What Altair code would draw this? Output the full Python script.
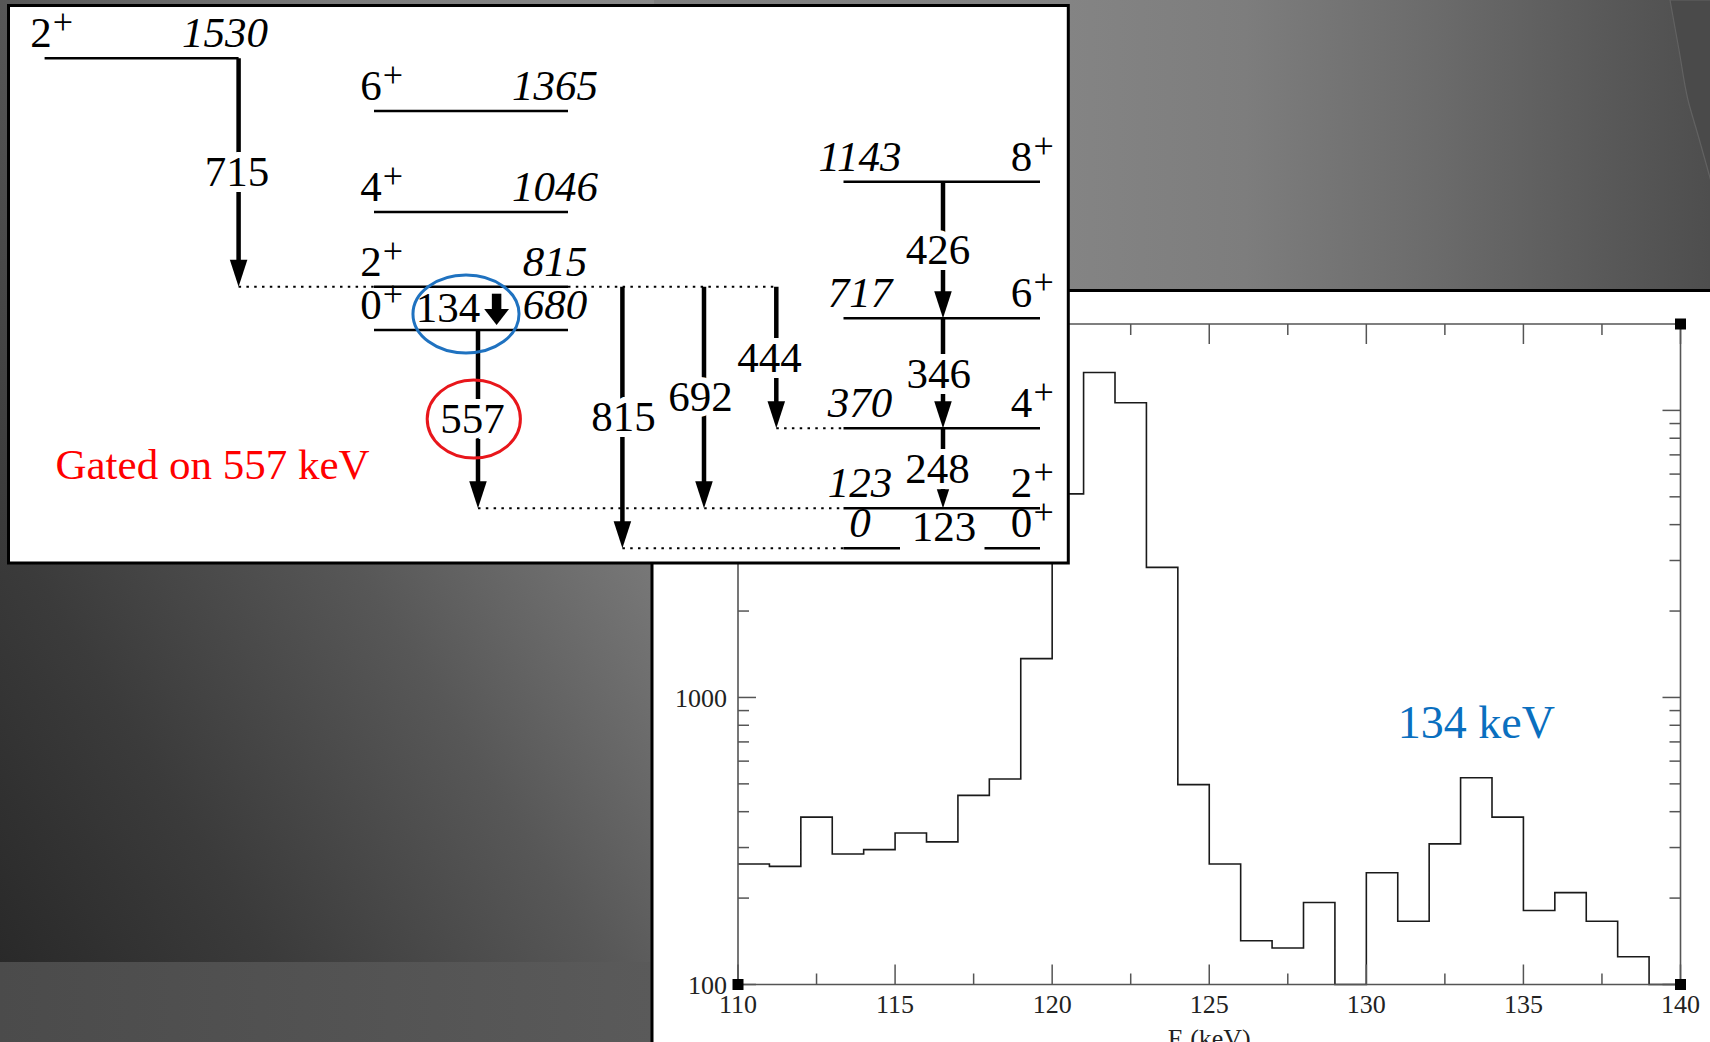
import altair as alt
import pandas as pd

W, H = 1710, 1042

# ---------------- spectrum gated on the 557 keV line (1 keV bins) ----------------
BIN_START = list(range(110, 140))
COUNTS = [263, 258, 383, 285, 295, 337, 314, 456, 520, 1365,
          5120, 13550, 10640, 2840, 497, 263, 142, 134, 193, 100,
          245, 166, 309, 525, 383, 181, 209, 166, 125, 100]
E_MIN, E_MAX = 110, 140
C_MIN, C_MAX = 100, 20000
X_MAJOR = [110, 115, 120, 125, 130, 135, 140]
X_MINOR = [112.5, 117.5, 122.5, 127.5, 132.5, 137.5]
Y_MAJOR = [100, 1000, 10000]
Y_LABELS = ["100", "1000", "10000"]
Y_MINOR = [200, 300, 400, 500, 600, 700, 800, 900,
           2000, 3000, 4000, 5000, 6000, 7000, 8000, 9000]
X_TITLE = "E (keV)"
PEAK_LABEL = "134 keV"
PEAK_LABEL_AT = (133.5, 810)

# ---------------- level scheme ----------------
LEVEL_E = [0, 123, 370, 717, 1143, 680, 815, 1046, 1365, 1530]
LEVEL_SPIN = ["0", "2", "4", "6", "8", "0", "2", "4", "6", "2"]
LEVEL_BAND = ["gsb", "gsb", "gsb", "gsb", "gsb", "beta", "beta", "beta", "beta", "side"]
GAMMA_E = [715, 557, 815, 692, 444, 426, 346, 248, 134, 123]
GAMMA_FROM = [1530, 680, 815, 815, 815, 1143, 717, 370, 815, 123]
GAMMA_TO = [815, 123, 0, 123, 370, 717, 370, 123, 680, 0]
GATE_TEXT = "Gated on 557 keV"
CIRCLED = [134, 557]

# ---------------- drawing layout (canvas pixels) ----------------
FONT = "Liberation Serif"
LEVEL_PIX = [548.3, 508.3, 428.3, 318.3, 181.8, 330.0, 286.7, 212.0, 111.0, 58.2]
BAND_SPAN = {"side": [(44.6, 238.6)], "beta": [(374, 568)], "gsb": [(843.5, 1040)]}
GROUND_SPAN = [(843.5, 900), (984.5, 1040)]
SPIN_X = {"side": 41, "beta": 371, "gsb": 1021.6}
ENERGY_X = {"side": 225, "beta": 555, "gsb": 860}
DOTTED = [(815, 238.6, 374), (815, 568, 776.3), (370, 776.3, 843.5),
          (123, 478, 843.5), (0, 622.4, 843.5)]
GAMMA_X = {715: 238.6, 557: 478, 815: 622.4, 692: 704, 444: 776.3,
           426: 943, 346: 943, 248: 943, 134: 496.6}
GAMMA_LABEL_XY = {715: (237, 171.5), 557: (472.6, 418), 815: (623.5, 416.7),
                  692: (700.5, 396.7), 444: (769.5, 357.5), 426: (938, 249),
                  346: (938.7, 373), 248: (937.6, 468), 134: (448, 307.7),
                  123: (944, 526.7)}
ELLIPSE = {134: ((466, 314), 1.36, "#1f72c0"), 557: ((473.8, 419), 1.195, "#e8161b")}
GATE_XY = (212.5, 464.5)
BOX = (8.5, 1068.3, 5.5, 563)
PANEL = (652, 1730, 290.5, 1060)
HIST_X = (738, 1680.5)
HIST_Y = (984.5, 324)
AX = "#555555"
CORNER_CURVE_Y = [0, 50, 100, 135, 167, 185]
CORNER_CURVE_X = [1670, 1679, 1688, 1698, 1707, 1712]

HEAD = "M -0.65 -2 L 0.65 -2 L 0 0 Z"
BLOCK_HEAD = "M -1.55 -2 L 1.55 -2 L 0 0 Z"


def ellipse_path(ratio):
    return (f"M {-ratio} 0 A {ratio} 1 0 1 1 {ratio} 0 "
            f"A {ratio} 1 0 1 1 {-ratio} 0 Z")


PXS = alt.Scale(domain=[0, W], range=[0, W], nice=False, zero=False)
PYS = alt.Scale(domain=[0, H], range=[0, H], nice=False, zero=False)
order = sorted(range(len(LEVEL_E)), key=lambda i: LEVEL_E[i])
ES = alt.Scale(domain=[LEVEL_E[i] for i in order],
               range=[LEVEL_PIX[i] for i in order], nice=False, zero=False)
HX = alt.Scale(domain=[E_MIN, E_MAX], range=list(HIST_X), nice=False, zero=False)
HY = alt.Scale(type="log", domain=[C_MIN, C_MAX], range=list(HIST_Y), nice=False)


def px(f):
    return alt.X(f, type="quantitative", scale=PXS, axis=None)


def py(f):
    return alt.Y(f, type="quantitative", scale=PYS, axis=None)


def ey(f):
    return alt.Y(f, type="quantitative", scale=ES, axis=None)


def hx(f):
    return alt.X(f, type="quantitative", scale=HX, axis=None)


def hy(f):
    return alt.Y(f, type="quantitative", scale=HY, axis=None)


def lin(stops, x1=0, y1=0, x2=1, y2=0):
    return {"gradient": "linear", "x1": x1, "y1": y1, "x2": x2, "y2": y2,
            "stops": [{"offset": o, "color": c} for o, c in stops]}


def pixel_rect(box, **mark):
    x0, x1, y0, y1 = box
    df = pd.DataFrame({"x0": [x0], "x1": [x1], "y0": [y0], "y1": [y1]})
    return alt.Chart(df).mark_rect(**mark).encode(
        x=px("x0"), x2=alt.X2("x1"), y=py("y0"), y2=alt.Y2("y1"))


layers = []

# slide background
layers.append(pixel_rect((0, 654, 0, H), color=lin(
    [(0, "#262626"), (0.25, "#3b3b3b"), (0.5, "#575757"), (0.75, "#7b7b7b"), (1, "#8a8a8a")],
    x1=0, y1=1, x2=1, y2=0)))
layers.append(pixel_rect((654, W, 0, 292), color=lin(
    [(0, "#7f7f7f"), (0.39, "#848484"), (0.56, "#7d7d7d"), (0.75, "#6a6a6a"),
     (0.9, "#595959"), (1, "#4e4e4e")])))
curve = pd.DataFrame({"y": CORNER_CURVE_Y, "x": CORNER_CURVE_X, "r": [W + 5] * len(CORNER_CURVE_Y)})
layers.append(alt.Chart(curve).mark_area(orient="horizontal", color="#4a4a4a", interpolate="monotone",
                                         stroke="#626262", strokeWidth=1.2).encode(
    y=py("y"), x=px("x"), x2=alt.X2("r")))
layers.append(pixel_rect((0, 652, 962, H), color=lin([(0, "#4b4b4b"), (1, "#5a5a5a")])))

# spectrum panel
layers.append(pixel_rect(PANEL, fill="white", stroke="black", strokeWidth=3))

hist = pd.DataFrame({"e": BIN_START + [E_MAX], "c": COUNTS + [COUNTS[-1]]})
layers.append(alt.Chart(hist).mark_line(interpolate="step-after", color="#1a1a1a",
                                        strokeWidth=1.6).encode(x=hx("e"), y=hy("c")))

frame = pd.DataFrame({"a": [E_MIN], "b": [E_MAX], "lo": [C_MIN], "hi": [C_MAX]})
layers.append(alt.Chart(frame).mark_rect(fillOpacity=0, stroke=AX, strokeWidth=1.6).encode(
    x=hx("a"), x2=alt.X2("b"), y=hy("lo"), y2=alt.Y2("hi")))

# ticks on all four sides, pointing inwards
for vals, length in ((X_MAJOR, 20), (X_MINOR, 11)):
    for base, sign in ((C_MIN, -1), (C_MAX, 1)):
        df = pd.DataFrame({"v": vals, "b": [base] * len(vals)})
        layers.append(alt.Chart(df).mark_rule(color=AX, strokeWidth=1.5,
                                              y2Offset=sign * length).encode(
            x=hx("v"), y=hy("b"), y2=alt.Y2("b")))
for vals, length in ((Y_MAJOR, 18), (Y_MINOR, 11)):
    for base, sign in ((E_MIN, 1), (E_MAX, -1)):
        df = pd.DataFrame({"v": vals, "b": [base] * len(vals)})
        layers.append(alt.Chart(df).mark_rule(color=AX, strokeWidth=1.5,
                                              x2Offset=sign * length).encode(
            y=hy("v"), x=hx("b"), x2=alt.X2("b")))

xl = pd.DataFrame({"v": X_MAJOR, "b": [C_MIN] * len(X_MAJOR), "t": [str(v) for v in X_MAJOR]})
layers.append(alt.Chart(xl).mark_text(font=FONT, fontSize=26, color="#222", baseline="alphabetic",
                                      yOffset=28.5).encode(x=hx("v"), y=hy("b"), text="t:N"))
yl = pd.DataFrame({"v": Y_MAJOR, "b": [E_MIN] * len(Y_MAJOR), "t": Y_LABELS})
layers.append(alt.Chart(yl).mark_text(font=FONT, fontSize=26, color="#222", align="right",
                                      baseline="middle", xOffset=-11, yOffset=1.5).encode(
    x=hx("b"), y=hy("v"), text="t:N"))
tl = pd.DataFrame({"v": [(E_MIN + E_MAX) / 2], "b": [C_MIN], "t": [X_TITLE]})
layers.append(alt.Chart(tl).mark_text(font=FONT, fontSize=26, color="#222", baseline="alphabetic",
                                      yOffset=62.5).encode(x=hx("v"), y=hy("b"), text="t:N"))
pk = pd.DataFrame({"v": [PEAK_LABEL_AT[0]], "c": [PEAK_LABEL_AT[1]], "t": [PEAK_LABEL]})
layers.append(alt.Chart(pk).mark_text(font=FONT, fontSize=46, color="#0a6fbf",
                                      baseline="middle").encode(x=hx("v"), y=hy("c"), text="t:N"))
corners = pd.DataFrame({"a": [E_MIN, E_MAX, E_MIN, E_MAX], "c": [C_MIN, C_MIN, C_MAX, C_MAX]})
layers.append(alt.Chart(corners).mark_square(size=121, color="black", opacity=1).encode(
    x=hx("a"), y=hy("c")))

# level scheme box
layers.append(pixel_rect(BOX, fill="white", stroke="black", strokeWidth=3))

rows = []
for e, band in zip(LEVEL_E, LEVEL_BAND):
    for a, b in (GROUND_SPAN if e == 0 else BAND_SPAN[band]):
        rows.append({"e": e, "a": a, "b": b})
layers.append(alt.Chart(pd.DataFrame(rows)).mark_rule(color="black", strokeWidth=2.5).encode(
    x=px("a"), x2=alt.X2("b"), y=ey("e")))

dots = pd.DataFrame([{"e": e, "a": a, "b": b} for e, a, b in DOTTED])
layers.append(alt.Chart(dots).mark_rule(color="black", strokeWidth=2, strokeDash=[2.5, 5.3]).encode(
    x=px("a"), x2=alt.X2("b"), y=ey("e")))

# gamma-ray arrows
arrows = []
for g, fi, to in zip(GAMMA_E, GAMMA_FROM, GAMMA_TO):
    if g in GAMMA_X and g != 134:
        arrows.append({"g": g, "fi": fi, "to": to, "x": GAMMA_X[g],
                       "size": 361 if g == 248 else 729, "shape": HEAD})
arrows = pd.DataFrame(arrows)
layers.append(alt.Chart(arrows).mark_rule(color="black", strokeWidth=4.5, y2Offset=-10).encode(
    x=px("x"), y=ey("fi"), y2=alt.Y2("to")))

gi = GAMMA_E.index(134)
blk = pd.DataFrame({"x": [GAMMA_X[134]], "fi": [GAMMA_FROM[gi]], "to": [GAMMA_TO[gi]]})
layers.append(alt.Chart(blk).mark_rule(color="black", strokeWidth=9.5, yOffset=7,
                                       y2Offset=-19).encode(x=px("x"), y=ey("fi"), y2=alt.Y2("to")))

labels = pd.DataFrame([{"g": g, "t": str(g), "x": GAMMA_LABEL_XY[g][0], "y": GAMMA_LABEL_XY[g][1],
                        "halo": g in GAMMA_X and g != 134} for g in GAMMA_E])
layers.append(alt.Chart(labels[labels["halo"]]).mark_text(
    font=FONT, fontSize=43, color="white", stroke="white", strokeWidth=12,
    baseline="middle", yOffset=1.6).encode(x=px("x"), y=py("y"), text="t:N"))

layers.append(alt.Chart(arrows).mark_point(filled=True, color="black", opacity=1).encode(
    x=px("x"), y=ey("to"), shape=alt.Shape("shape:N", scale=None), size=alt.Size("size:Q", scale=None)))
layers.append(alt.Chart(blk).mark_point(filled=True, color="black", opacity=1, size=256,
                                        shape=BLOCK_HEAD, yOffset=-5).encode(x=px("x"), y=ey("to")))

layers.append(alt.Chart(labels).mark_text(font=FONT, fontSize=43, color="black",
                                          baseline="middle", yOffset=1.6).encode(
    x=px("x"), y=py("y"), text="t:N"))

# level labels: spin-parity and energy
lv = pd.DataFrame({"e": LEVEL_E, "spin": LEVEL_SPIN, "band": LEVEL_BAND,
                   "sx": [SPIN_X[b] for b in LEVEL_BAND], "ex": [ENERGY_X[b] for b in LEVEL_BAND],
                   "et": [str(e) for e in LEVEL_E], "plus": ["+"] * len(LEVEL_E)})
lv["px"] = lv["sx"] + 22
layers.append(alt.Chart(lv).mark_text(font=FONT, fontSize=43, color="black", baseline="alphabetic",
                                      yOffset=-11).encode(x=px("sx"), y=ey("e"), text="spin:N"))
layers.append(alt.Chart(lv).mark_text(font=FONT, fontSize=36, color="black", baseline="alphabetic",
                                      yOffset=-24).encode(x=px("px"), y=ey("e"), text="plus:N"))
layers.append(alt.Chart(lv).mark_text(font=FONT, fontSize=43, fontStyle="italic", color="black",
                                      baseline="alphabetic", yOffset=-11).encode(
    x=px("ex"), y=ey("e"), text="et:N"))

# circled transitions
ell = pd.DataFrame([{"g": g, "x": ELLIPSE[g][0][0], "y": ELLIPSE[g][0][1],
                     "shape": ellipse_path(ELLIPSE[g][1]), "c": ELLIPSE[g][2]} for g in CIRCLED])
layers.append(alt.Chart(ell).mark_point(filled=False, strokeWidth=3, size=6084, opacity=1).encode(
    x=px("x"), y=py("y"), shape=alt.Shape("shape:N", scale=None), color=alt.Color("c:N", scale=None)))

gate = pd.DataFrame({"x": [GATE_XY[0]], "y": [GATE_XY[1]], "t": [GATE_TEXT]})
layers.append(alt.Chart(gate).mark_text(font=FONT, fontSize=43, color="#ff0000", baseline="middle",
                                        yOffset=1.6).encode(x=px("x"), y=py("y"), text="t:N"))

chart = alt.layer(*layers).resolve_scale(x="independent", y="independent").properties(
    width=W, height=H, padding=0, background="white",
    autosize=alt.AutoSizeParams(type="none")).configure_view(strokeWidth=0)

chart.save("out.html", embed_options={"renderer": "svg", "actions": False})
